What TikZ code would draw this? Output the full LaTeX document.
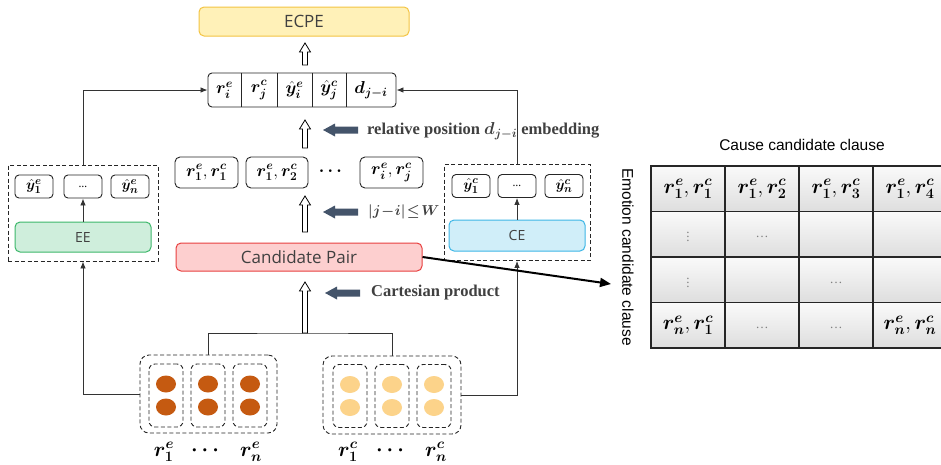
\documentclass[tikz,border=0pt]{standalone}
\usepackage{amsmath}
\usepackage{bm}
\usepackage{fontspec}
\setmainfont{Liberation Serif}
\newfontfamily\uisans{Open Sans}
\newfontfamily\arialfont{Liberation Sans}
\usetikzlibrary{arrows.meta,calc}

\definecolor{ecpefill}{HTML}{FFF1B8}
\definecolor{ecpeline}{HTML}{F3C443}
\definecolor{cpfill}{HTML}{FDCFCF}
\definecolor{cpline}{HTML}{E8403F}
\definecolor{eefill}{HTML}{CFEEDC}
\definecolor{eeline}{HTML}{3DB86B}
\definecolor{cefill}{HTML}{D0EEF9}
\definecolor{celine}{HTML}{3DB6E6}
\definecolor{blockarrow}{HTML}{44546A}
\definecolor{darkdot}{HTML}{C55A11}
\definecolor{lightdot}{HTML}{FCD38A}
\definecolor{txtgray}{HTML}{404040}

\tikzset{
  fsA/.style={font=\fontsize{18}{18}\selectfont},
  fsB/.style={font=\fontsize{15.5}{15.5}\selectfont},
  fsC/.style={font=\fontsize{20}{20}\selectfont},
  fsT/.style={font=\fontsize{19.5}{19.5}\selectfont},
  mbox/.style={draw=black!85, line width=0.9pt, rounded corners=4pt, inner sep=0pt, fsA},
  fcell/.style={minimum height=34, inner sep=0pt, fsA},
  smallbox/.style={mbox, minimum width=38, minimum height=23, fsB},
  colbox/.style={draw, rounded corners=5pt, line width=1pt, inner sep=0pt, text=txtgray, font=\uisans\fontsize{17}{17}\selectfont},
  dashbox/.style={draw=black!85, dash pattern=on 4pt off 2.5pt, line width=0.9pt, inner sep=0pt},
  groupbox/.style={dashbox, rounded corners=9pt},
  slotbox/.style={dashbox, rounded corners=6pt, minimum width=34, minimum height=63},
  conn/.style={draw=black!80, line width=0.8pt, -{Latex[length=7pt,width=5.5pt]}},
  plain/.style={draw=black!80, line width=0.8pt},
  cell/.style={draw=black!85, line width=1.1pt, top color=gray!4, bottom color=gray!26, minimum width=74, minimum height=45.5, inner sep=0pt},
  lowdots/.style={text=gray, font=\fontsize{13}{13}\selectfont},
  note/.style={text=txtgray, font=\bfseries\fontsize{16.5}{16.5}\selectfont, anchor=west, inner sep=0pt},
  pics/hollowup/.style={code={
    \draw[fill=white, line width=0.8pt]
      (-2.5,0) -- (-2.5,{-#1+9}) -- (-5.5,{-#1+9}) -- (0,-#1)
      -- (5.5,{-#1+9}) -- (2.5,{-#1+9}) -- (2.5,0) -- cycle;}},
  pics/blockleft/.style={code={
    \fill[blockarrow] (0,0) -- (12,-6.5) -- (12,-3.5) -- (35,-3.5)
      -- (35,3.5) -- (12,3.5) -- (12,6.5) -- cycle;}},
}

\begin{document}
\begin{tikzpicture}[x=1pt,y=-1pt]
\useasboundingbox (0,0) rectangle (941,464);
\fill[white] (0,0) rectangle (941,464);

% ---------- output ----------
\node[colbox, draw=ecpeline, fill=ecpefill, minimum width=210, minimum height=29] (ecpe) at (304,21.5) {ECPE};

% ---------- pair feature vector ----------
\node[mbox, minimum width=188, minimum height=34] (feat) at (302,90) {};
\node[fcell, minimum width=33] (f1) at (224.5,90) {$\bm{r}^{\bm{e}}_{\bm{i}}$};
\node[fcell, minimum width=36] (f2) at (259,90) {$\bm{r}^{\bm{c}}_{\bm{j}}$};
\node[fcell, minimum width=35] (f3) at (294.5,90) {$\bm{\hat{y}}^{\bm{e}}_{\bm{i}}$};
\node[fcell, minimum width=34] (f4) at (329,90) {$\bm{\hat{y}}^{\bm{c}}_{\bm{j}}$};
\node[fcell, minimum width=50] (f5) at (371,90) {$\bm{d}_{\bm{j-i}}$};
\foreach \k in {1,2,3,4}
  \draw[line width=0.9pt, black!85] (f\k.north east) -- (f\k.south east);

\pic at (305,65) {hollowup=22};

% relative position embedding
\pic at (323,130) {blockleft};
\node[note] (relpos) at (367,131) {relative position $\bm{d}_{\bm{j-i}}$ embedding};
\pic at (305,148) {hollowup=28};

% ---------- candidate pairs ----------
\node[mbox, rounded corners=5pt, minimum width=63, minimum height=31] (p1) at (206.5,172.5) {$\bm{r}^{\bm{e}}_{\bm{1}}, \bm{r}^{\bm{c}}_{\bm{1}}$};
\node[mbox, rounded corners=5pt, minimum width=62, minimum height=31] (p2) at (277,172.5) {$\bm{r}^{\bm{e}}_{\bm{1}}, \bm{r}^{\bm{c}}_{\bm{2}}$};
\node[fsA] (pdots) at (332,171) {$\bm{\cdots}$};
\node[mbox, rounded corners=5pt, minimum width=63, minimum height=31] (p3) at (391.5,172.5) {$\bm{r}^{\bm{e}}_{\bm{i}}, \bm{r}^{\bm{c}}_{\bm{j}}$};

\pic at (323,212) {blockleft};
\node[note, font=\bfseries\fontsize{15}{15}\selectfont] (window) at (368,212) {$\bm{|j\mkern1mu{-}\mkern1mu i|\mkern2mu{\le}\mkern2mu W}$};
\pic at (305,232) {hollowup=36};

\node[colbox, draw=cpline, fill=cpfill, minimum width=246, minimum height=28] (cp) at (299,257) {Candidate Pair};

\pic at (325,293) {blockleft};
\node[note] (cart) at (371,293) {Cartesian product};

% ---------- emotion extraction ----------
\node[dashbox, minimum width=150, minimum height=96] (eeg) at (83,213) {};
\node[smallbox] (ee1) at (34,186.5) {$\bm{\hat{y}}^{\bm{e}}_{\bm{1}}$};
\node[smallbox, font=\uisans\fontsize{11}{11}\selectfont] (eed) at (83,186.5) {\ldots};
\node[smallbox] (een) at (130,186.5) {$\bm{\hat{y}}^{\bm{e}}_{\bm{n}}$};
\node[colbox, draw=eeline, fill=eefill, minimum width=136, minimum height=30, font=\uisans\fontsize{14}{14}\selectfont] (ee) at (83,237) {EE};
\draw[conn] (ee.north) -- (eed.south);

% ---------- cause extraction ----------
\node[dashbox, minimum width=146, minimum height=96] (ceg) at (517,212.5) {};
\node[smallbox] (ce1) at (471,186) {$\bm{\hat{y}}^{\bm{c}}_{\bm{1}}$};
\node[smallbox, font=\uisans\fontsize{11}{11}\selectfont] (ced) at (517,186) {\ldots};
\node[smallbox] (cen) at (564,186) {$\bm{\hat{y}}^{\bm{c}}_{\bm{n}}$};
\node[colbox, draw=celine, fill=cefill, minimum width=136, minimum height=31, font=\uisans\fontsize{14}{14}\selectfont] (ce) at (517,235.5) {CE};
\draw[conn] (ce.north) -- (ced.south);

% ---------- clause representations ----------
\node[groupbox, minimum width=137, minimum height=78] (lout) at (208.5,394) {};
\node[groupbox, minimum width=138, minimum height=78] (rout) at (392,395) {};
\foreach \n/\x in {1/166,2/208,3/250}{
  \node[slotbox] (ls\n) at (\x,395.5) {};
  \fill[darkdot] (\x,384) ellipse [x radius=10, y radius=8.5];
  \fill[darkdot] (\x,407) ellipse [x radius=10, y radius=8.5];
}
\foreach \n/\x in {1/350,2/392,3/434}{
  \node[slotbox] (rs\n) at (\x,396) {};
  \fill[lightdot] (\x,384.5) ellipse [x radius=10, y radius=8.5];
  \fill[lightdot] (\x,407.5) ellipse [x radius=10, y radius=8.5];
}
\node[fsC] (le1) at (164,452) {$\bm{r}^{\bm{e}}_{\bm{1}}$};
\node[fsC] (led) at (207,451) {$\bm{\cdots}$};
\node[fsC] (len) at (251,452) {$\bm{r}^{\bm{e}}_{\bm{n}}$};
\node[fsC] (rc1) at (348,452) {$\bm{r}^{\bm{c}}_{\bm{1}}$};
\node[fsC] (rcd) at (392,451) {$\bm{\cdots}$};
\node[fsC] (rcn) at (436,452) {$\bm{r}^{\bm{c}}_{\bm{n}}$};

% ---------- connectors ----------
\coordinate (merge) at (305,333);
\draw[plain] (lout.north) |- (merge) -| (rout.north);
\pic at (merge) {hollowup=51};

\draw[conn] (lout.west) -| (eeg.south);
\draw[conn] (rout.east) -| (ceg.south);
\draw[conn] (eeg.north) |- (feat.west);
\draw[conn] (ceg.north) |- (feat.east);

\coordinate (tabin) at (611,284);
\draw[line width=2pt, -{Triangle[length=11pt,width=9pt]}] (cp.east) -- (tabin);

% ---------- candidate pair matrix ----------
\node[font=\arialfont\fontsize{15.5}{15.5}\selectfont] (causetitle) at (802,145) {Cause candidate clause};
\node[font=\arialfont\fontsize{15.5}{15.5}\selectfont, rotate=-90] (emotitle) at (628,257) {Emotion candidate clause};
\foreach \r in {1,...,4}
  \foreach \c in {1,...,4}
    \node[cell] (t\r\c) at ({651+74*(\c-0.5)},{166+45.5*(\r-0.5)}) {};
\node[fsT] (l11) at (t11) {$\bm{r}^{\bm{e}}_{\bm{1}}, \bm{r}^{\bm{c}}_{\bm{1}}$};
\node[fsT] (l12) at (t12) {$\bm{r}^{\bm{e}}_{\bm{1}}, \bm{r}^{\bm{c}}_{\bm{2}}$};
\node[fsT] (l13) at (t13) {$\bm{r}^{\bm{e}}_{\bm{1}}, \bm{r}^{\bm{c}}_{\bm{3}}$};
\node[fsT] (l14) at (t14) {$\bm{r}^{\bm{e}}_{\bm{1}}, \bm{r}^{\bm{c}}_{\bm{4}}$};
\node[lowdots] (l21) at (t21) {$\vdots$};
\node[lowdots] (l22) at ($(t22)+(0,3)$) {\ldots};
\node[lowdots] (l31) at (t31) {$\vdots$};
\node[lowdots] (l33) at ($(t33)+(0,3)$) {\ldots};
\node[fsT] (l41) at (t41) {$\bm{r}^{\bm{e}}_{\bm{n}}, \bm{r}^{\bm{c}}_{\bm{1}}$};
\node[lowdots] (l42) at ($(t42)+(0,3)$) {\ldots};
\node[lowdots] (l43) at ($(t43)+(0,3)$) {\ldots};
\node[fsT] (l44) at (t44) {$\bm{r}^{\bm{e}}_{\bm{n}}, \bm{r}^{\bm{c}}_{\bm{n}}$};
\end{tikzpicture}
\end{document}
